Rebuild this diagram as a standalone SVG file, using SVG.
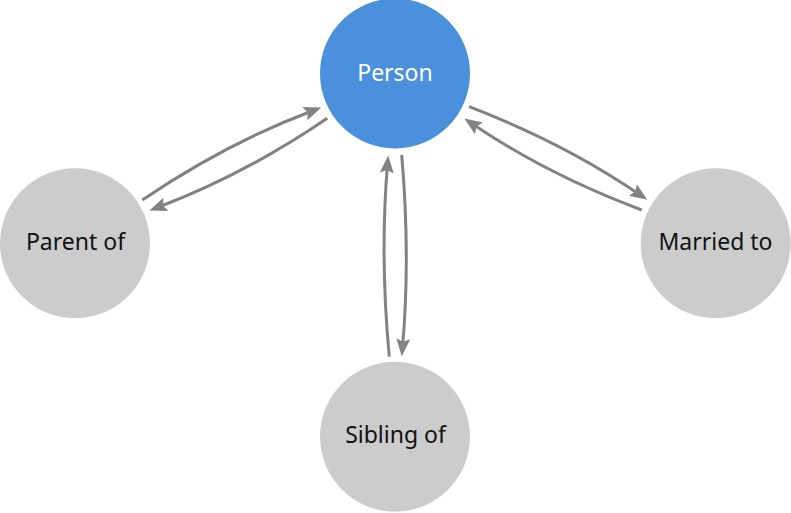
<svg xmlns="http://www.w3.org/2000/svg" width="791" height="513" viewBox="0 0 791 513">
<style>
.edge{fill:none;stroke:#828282;stroke-width:3;}
.node-main{fill:#4A90DC;}
.node{fill:#CCCCCC;}
.lbl{font-family:"Noto Sans","Open Sans",sans-serif;font-size:23px;text-anchor:middle;fill:#111111;}
.lbl-main{fill:#FFFFFF;}
</style>
<defs>
<marker id="arrow" markerUnits="userSpaceOnUse" markerWidth="22" markerHeight="18" viewBox="0 -9 20 18" refX="9" refY="0" orient="auto">
<path d="M17.5,0 L0,-7 L3,0 L0,7 Z" fill="#828282"/>
</marker>
</defs>
<rect width="791" height="513" fill="#FFFFFF"/>
<g id="connectors">
<path class="edge" d="M142.3,200 Q226.5,143 313.3,110.5" marker-end="url(#arrow)"/>
<path class="edge" d="M327.3,118.3 Q243.7,175.2 157.4,207.5" marker-end="url(#arrow)"/>
<path class="edge" d="M469,106.7 Q563.9,142.7 640.3,195" marker-end="url(#arrow)"/>
<path class="edge" d="M641.7,210 Q547.3,174.8 471.4,123.3" marker-end="url(#arrow)"/>
<path class="edge" d="M389.3,356.7 Q379.8,256 387.5,164" marker-end="url(#arrow)"/>
<path class="edge" d="M401.7,155 Q410.5,256 402.5,347.7" marker-end="url(#arrow)"/>
</g>
<g id="person">
<circle class="node-main" cx="395" cy="73.5" r="75"/>
<text class="lbl lbl-main" x="395" y="81">Person</text>
</g>
<g id="parent-of">
<circle class="node" cx="75" cy="243.3" r="75"/>
<text class="lbl" x="75.5" y="250">Parent of</text>
</g>
<g id="married-to">
<circle class="node" cx="715.7" cy="243.3" r="75"/>
<text class="lbl" x="715.5" y="249.5">Married to</text>
</g>
<g id="sibling-of">
<circle class="node" cx="395" cy="436.7" r="75"/>
<text class="lbl" x="395.5" y="442.5">Sibling of</text>
</g>
</svg>
